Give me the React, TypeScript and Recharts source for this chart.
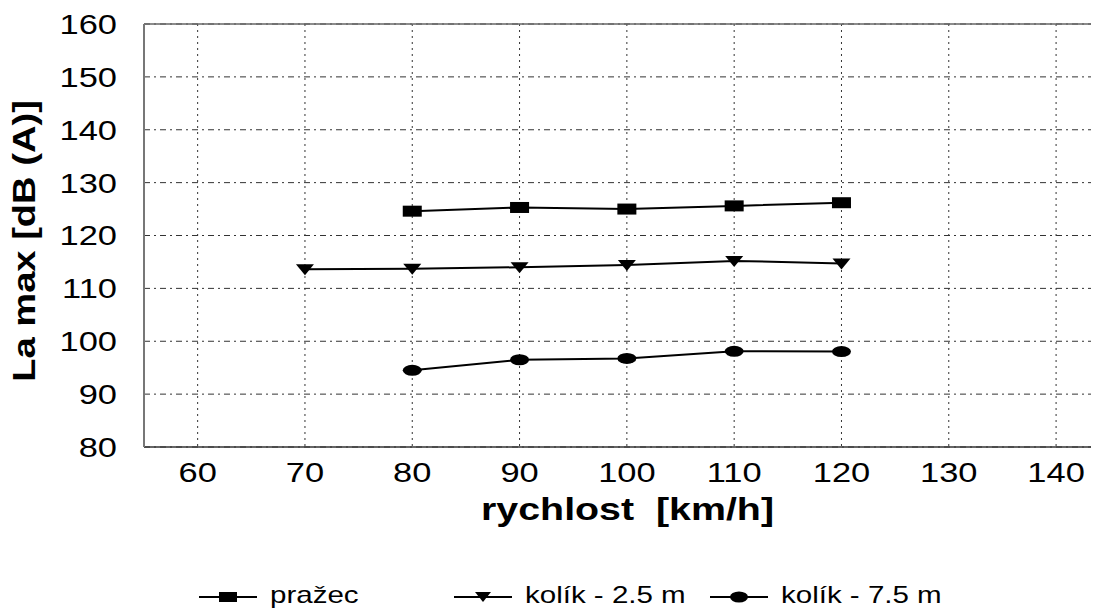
import React from 'react'
import { LineChart, Line, XAxis, YAxis, CartesianGrid, ReferenceLine } from 'recharts'

const speeds = [70, 80, 90, 100, 110, 120]
const prazec = [null, 124.6, 125.3, 125.0, 125.6, 126.2]
const kolik25 = [113.6, 113.7, 114.0, 114.4, 115.2, 114.7]
const kolik75 = [null, 94.5, 96.5, 96.75, 98.1, 98.05]

const xTicks = [60, 70, 80, 90, 100, 110, 120, 130, 140]
const yTicks = [80, 90, 100, 110, 120, 130, 140, 150, 160]

const FONT = '"Liberation Sans", Arial, sans-serif'
const SX = 1.23

const data = speeds.map((s, i) => ({ s, a: prazec[i], b: kolik25[i], c: kolik75[i] }))

const Square = ({ cx, cy }: any) =>
  cx == null || cy == null ? null : <rect x={cx - 9.5} y={cy - 5.5} width={19} height={11} fill="#000" />

const Tri = ({ cx, cy }: any) =>
  cx == null || cy == null ? null : <path d={`M${cx - 9},${cy - 5} L${cx + 9},${cy - 5} L${cx},${cy + 6} Z`} fill="#000" />

const Oval = ({ cx, cy }: any) =>
  cx == null || cy == null ? null : <ellipse cx={cx} cy={cy} rx={9.5} ry={5.5} fill="#000" />

const XTick = ({ x, y, payload }: any) => (
  <text transform={`translate(${x},${y}) scale(${SX},1)`} textAnchor="middle" dy="0.71em"
    fontFamily={FONT} fontSize={28} fill="#000">{payload.value}</text>
)

const YTick = ({ x, y, payload }: any) => (
  <text transform={`translate(${x},${y}) scale(${SX},1)`} textAnchor="end" dy="0.355em"
    fontFamily={FONT} fontSize={28} fill="#000">{payload.value}</text>
)

const XLabel = ({ viewBox }: any) => (
  <text transform={`translate(${viewBox.x + viewBox.width / 2 + 6},512) scale(${SX},1)`} textAnchor="middle"
    fontFamily={FONT} fontSize={32} fontWeight="bold" fill="#000" style={{ whiteSpace: 'pre' }}>
    {'rychlost  [km/h]'}
  </text>
)

const YLabel = () => (
  <text transform={`translate(27,233) rotate(-90) scale(${SX},1)`} textAnchor="middle"
    fontFamily={FONT} fontSize={31} fontWeight="bold" fill="#000">La max [dB (A)]</text>
)

const legendItems = [
  { name: 'pražec', cx: 228, mark: 'sq' },
  { name: 'kolík - 2.5 m', cx: 483, mark: 'tri' },
  { name: 'kolík - 7.5 m', cx: 739, mark: 'ov' },
]

function LegendRow() {
  const y = 589
  return (
    <svg width={1091} height={602} style={{ position: 'absolute', left: 0, top: 0, pointerEvents: 'none' }}>
      {legendItems.map(it => {
        const cx = it.cx - 8
        return (
          <g key={it.name}>
            <line x1={cx - 29} x2={cx + 29} y1={y} y2={y} stroke="#000" strokeWidth={2} />
            {it.mark === 'sq' && <rect x={cx - 9} y={y - 5} width={18} height={10} fill="#000" />}
            {it.mark === 'tri' && <path d={`M${cx - 8},${y - 5} L${cx + 8},${y - 5} L${cx},${y + 5} Z`} fill="#000" />}
            {it.mark === 'ov' && <ellipse cx={cx} cy={y} rx={9} ry={5.5} fill="#000" />}
            <text transform={`translate(${cx + 42},${y + 6}) scale(${SX},1)`} fontFamily={FONT} fontSize={24} fill="#000">
              {it.name}
            </text>
          </g>
        )
      })}
    </svg>
  )
}

export default function App() {
  return (
    <div style={{ position: 'relative', width: 1091, height: 602 }}>
      <LineChart width={1091} height={602} data={data} margin={{ top: 16, right: 0, bottom: 0, left: 0 }}>
        <CartesianGrid stroke="#333" strokeWidth={1} horizontal={false} strokeDasharray="2 4" />
        <CartesianGrid stroke="#333" strokeWidth={1} vertical={false} strokeDasharray="6 4 2 4" />
        <ReferenceLine y={160} stroke="#666" strokeWidth={1.5} />
        <XAxis dataKey="s" type="number" domain={[55, 144]} ticks={xTicks} allowDataOverflow
          height={163} tickSize={0} tickMargin={15} tick={<XTick />} stroke="#333" strokeWidth={1.5}
          label={<XLabel />} />
        <YAxis type="number" domain={[80, 160]} ticks={yTicks} width={136} tickSize={0} tickMargin={27}
          tick={<YTick />} stroke="#777" strokeWidth={2} label={<YLabel />} />
        <Line dataKey="a" stroke="#000" strokeWidth={2} dot={<Square />} activeDot={false} isAnimationActive={false} />
        <Line dataKey="b" stroke="#000" strokeWidth={2} dot={<Tri />} activeDot={false} isAnimationActive={false} />
        <Line dataKey="c" stroke="#000" strokeWidth={2} dot={<Oval />} activeDot={false} isAnimationActive={false} />
      </LineChart>
      <LegendRow />
    </div>
  )
}
